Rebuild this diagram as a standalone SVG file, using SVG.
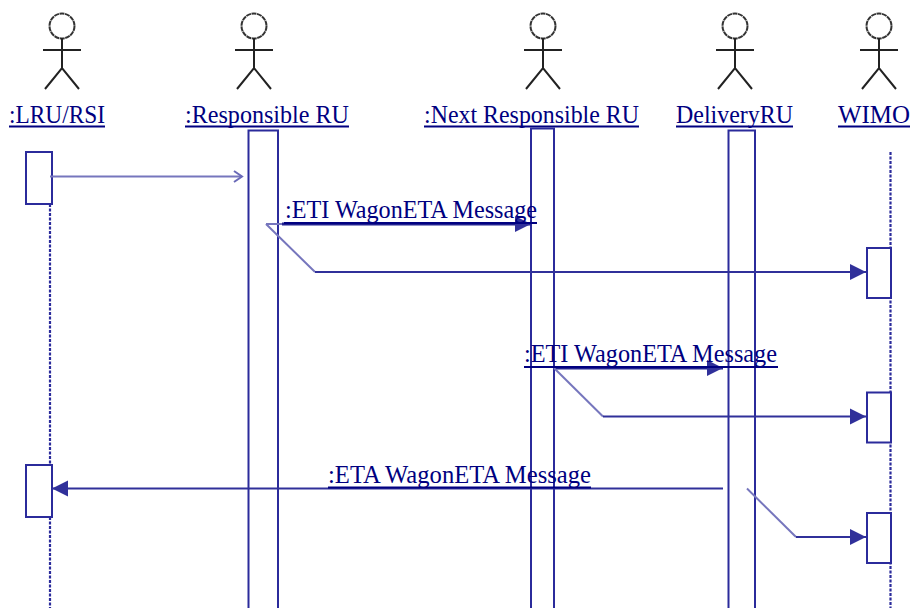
<svg xmlns="http://www.w3.org/2000/svg" width="912" height="608" viewBox="0 0 912 608">
<defs>
<marker id="solid" markerUnits="userSpaceOnUse" markerWidth="18" markerHeight="18" refX="16" refY="9" orient="auto"><path d="M0 1 L16 9 L0 17 Z" fill="#30309a"/></marker>
<marker id="open" markerUnits="userSpaceOnUse" markerWidth="12" markerHeight="14" refX="10" refY="7" orient="auto"><path d="M2 1.5 L10 7 L2 12.5" fill="none" stroke="#6a6ab8" stroke-width="2"/></marker>
<symbol id="stick" overflow="visible"><circle cx="0" cy="26" r="12.500" fill="#fff" stroke="#333" stroke-width="2" stroke-dasharray="5 .6"/><path d="M0 38 V68 M-19 50 H19 M-17 89 L0 68 L17 89" fill="none" stroke="#222" stroke-width="2"/></symbol>
</defs>
<style>
.t{font-family:"Liberation Serif","DejaVu Serif",serif;font-size:25px;fill:#000080}
.u{stroke:#000080;stroke-width:1.8;fill:none}
.b{fill:#fff;stroke:#2b2b9b;stroke-width:2}
.l{stroke:#2b2b9b;stroke-width:2.200;stroke-dasharray:3 1.5;fill:none}
.c{fill:none;stroke:#30309a;stroke-width:2}
.h{fill:none;stroke:#222290;stroke-width:3}
.f{fill:none;stroke:#7676bd;stroke-width:2}
</style>
<rect width="912" height="608" fill="#fff"/>
<g id="node-lru">
<use href="#stick" x="62" y="0"/>
<text class="t" x="9" y="123" textLength="96" lengthAdjust="spacingAndGlyphs">:LRU/RSI</text><path class="u" d="M9 126.500H105"/>
<path class="l" d="M50 204V465M50 517V608"/>
<rect class="b" x="26" y="152" width="26" height="52"/><rect class="b" x="26" y="465" width="26" height="52"/>
</g>
<g id="node-responsible">
<use href="#stick" x="254" y="0"/>
<text class="t" x="185" y="123" textLength="164" lengthAdjust="spacingAndGlyphs">:Responsible RU</text><path class="u" d="M185 126.500H349"/>
<rect class="b" x="248.500" y="130.500" width="29.500" height="490"/>
</g>
<g id="node-next">
<use href="#stick" x="543" y="0"/>
<text class="t" x="424" y="123" textLength="215" lengthAdjust="spacingAndGlyphs">:Next Responsible RU</text><path class="u" d="M424 126.500H639"/>
<rect class="b" x="531" y="128.500" width="23" height="492"/>
</g>
<g id="node-delivery">
<use href="#stick" x="735" y="0"/>
<text class="t" x="676" y="123" textLength="117" lengthAdjust="spacingAndGlyphs">DeliveryRU</text><path class="u" d="M676 126.500H793"/>
<rect class="b" x="728.500" y="130.500" width="26.500" height="490"/>
</g>
<g id="node-wimo">
<use href="#stick" x="879" y="0"/>
<text class="t" x="838" y="123" textLength="72" lengthAdjust="spacingAndGlyphs">WIMO</text><path class="u" d="M838 126.500H910"/>
<path class="l" d="M890.500 152V608"/>
<rect class="b" x="867" y="248" width="24" height="50"/><rect class="b" x="867" y="392.500" width="24" height="50"/><rect class="b" x="867" y="513" width="24" height="50"/>
</g>
<g id="connectors">
<path class="f" d="M50 176.500H242" marker-end="url(#open)"/>
<path class="f" d="M266 224H285M266 224L315 272"/>
<path class="h" d="M282 224H531" marker-end="url(#solid)"/>
<path class="c" d="M315 272H866" marker-end="url(#solid)"/>
<path class="h" d="M554 368H723" marker-end="url(#solid)"/>
<path class="f" d="M554 368L603 416.500"/>
<path class="c" d="M603 416.500H866" marker-end="url(#solid)"/>
<path class="c" d="M723 488.500H52" marker-end="url(#solid)"/>
<path class="f" d="M747 488.500L796 537"/>
<path class="c" d="M796 537H866" marker-end="url(#solid)"/>
</g>
<g id="labels">
<text class="t" x="285" y="218" textLength="252" lengthAdjust="spacingAndGlyphs">:ETI WagonETA Message</text><path class="u" d="M284 223H537"/>
<text class="t" x="524" y="362" textLength="253" lengthAdjust="spacingAndGlyphs">:ETI WagonETA Message</text><path class="u" d="M524 367H778"/>
<text class="t" x="328" y="483" textLength="263" lengthAdjust="spacingAndGlyphs">:ETA WagonETA Message</text><path class="u" d="M328 487.500H591"/>
</g>
</svg>
